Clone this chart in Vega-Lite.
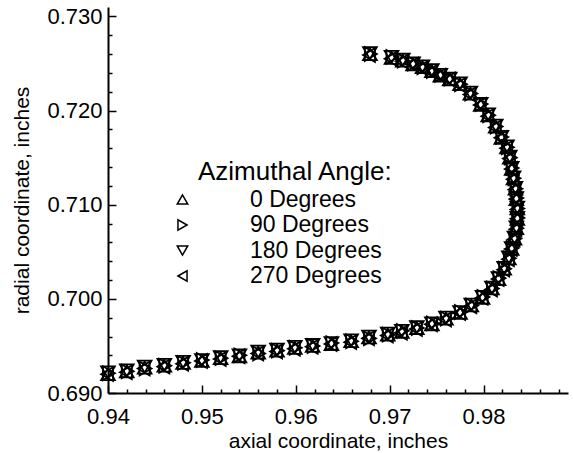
{
 "$schema": "https://vega.github.io/schema/vega-lite/v6.json",
 "width": 460, "height": 386,
 "autosize": {"type": "none"},
 "padding": {"left": 108, "top": 7, "right": 5, "bottom": 60},
 "background": "white",
 "config": {"view": {"stroke": null}, "font": "Liberation Sans"},
 "data": {"values": [
  {"x":0.9400,"y":0.6920,"a":"0 Degrees"},{"x":0.9420,"y":0.6923,"a":"0 Degrees"},{"x":0.9439,"y":0.6927,"a":"0 Degrees"},{"x":0.9460,"y":0.6929,"a":"0 Degrees"},{"x":0.9480,"y":0.6932,"a":"0 Degrees"},{"x":0.9500,"y":0.6934,"a":"0 Degrees"},{"x":0.9520,"y":0.6937,"a":"0 Degrees"},{"x":0.9540,"y":0.6939,"a":"0 Degrees"},{"x":0.9560,"y":0.6943,"a":"0 Degrees"},{"x":0.9580,"y":0.6945,"a":"0 Degrees"},{"x":0.9599,"y":0.6948,"a":"0 Degrees"},{"x":0.9618,"y":0.6950,"a":"0 Degrees"},{"x":0.9638,"y":0.6952,"a":"0 Degrees"},{"x":0.9659,"y":0.6955,"a":"0 Degrees"},{"x":0.9678,"y":0.6959,"a":"0 Degrees"},{"x":0.9698,"y":0.6962,"a":"0 Degrees"},{"x":0.9713,"y":0.6965,"a":"0 Degrees"},{"x":0.9729,"y":0.6969,"a":"0 Degrees"},{"x":0.9745,"y":0.6973,"a":"0 Degrees"},{"x":0.9760,"y":0.6979,"a":"0 Degrees"},{"x":0.9775,"y":0.6985,"a":"0 Degrees"},{"x":0.9787,"y":0.6993,"a":"0 Degrees"},{"x":0.9799,"y":0.7001,"a":"0 Degrees"},{"x":0.9809,"y":0.7011,"a":"0 Degrees"},{"x":0.9816,"y":0.7021,"a":"0 Degrees"},{"x":0.9822,"y":0.7032,"a":"0 Degrees"},{"x":0.9827,"y":0.7043,"a":"0 Degrees"},{"x":0.9830,"y":0.7053,"a":"0 Degrees"},{"x":0.9833,"y":0.7064,"a":"0 Degrees"},{"x":0.9835,"y":0.7075,"a":"0 Degrees"},{"x":0.9836,"y":0.7085,"a":"0 Degrees"},{"x":0.9836,"y":0.7096,"a":"0 Degrees"},{"x":0.9835,"y":0.7106,"a":"0 Degrees"},{"x":0.9834,"y":0.7117,"a":"0 Degrees"},{"x":0.9832,"y":0.7128,"a":"0 Degrees"},{"x":0.9830,"y":0.7138,"a":"0 Degrees"},{"x":0.9828,"y":0.7150,"a":"0 Degrees"},{"x":0.9825,"y":0.7161,"a":"0 Degrees"},{"x":0.9819,"y":0.7171,"a":"0 Degrees"},{"x":0.9813,"y":0.7183,"a":"0 Degrees"},{"x":0.9805,"y":0.7195,"a":"0 Degrees"},{"x":0.9797,"y":0.7206,"a":"0 Degrees"},{"x":0.9786,"y":0.7218,"a":"0 Degrees"},{"x":0.9775,"y":0.7228,"a":"0 Degrees"},{"x":0.9764,"y":0.7233,"a":"0 Degrees"},{"x":0.9754,"y":0.7237,"a":"0 Degrees"},{"x":0.9745,"y":0.7242,"a":"0 Degrees"},{"x":0.9735,"y":0.7246,"a":"0 Degrees"},{"x":0.9725,"y":0.7249,"a":"0 Degrees"},{"x":0.9714,"y":0.7253,"a":"0 Degrees"},{"x":0.9702,"y":0.7256,"a":"0 Degrees"},{"x":0.9679,"y":0.7260,"a":"0 Degrees"},

  {"x":0.9401,"y":0.6921,"a":"90 Degrees"},{"x":0.9421,"y":0.6923,"a":"90 Degrees"},{"x":0.9440,"y":0.6926,"a":"90 Degrees"},{"x":0.9461,"y":0.6929,"a":"90 Degrees"},{"x":0.9481,"y":0.6932,"a":"90 Degrees"},{"x":0.9501,"y":0.6935,"a":"90 Degrees"},{"x":0.9521,"y":0.6937,"a":"90 Degrees"},{"x":0.9541,"y":0.6940,"a":"90 Degrees"},{"x":0.9561,"y":0.6942,"a":"90 Degrees"},{"x":0.9581,"y":0.6945,"a":"90 Degrees"},{"x":0.9600,"y":0.6948,"a":"90 Degrees"},{"x":0.9619,"y":0.6950,"a":"90 Degrees"},{"x":0.9639,"y":0.6953,"a":"90 Degrees"},{"x":0.9660,"y":0.6955,"a":"90 Degrees"},{"x":0.9679,"y":0.6958,"a":"90 Degrees"},{"x":0.9699,"y":0.6962,"a":"90 Degrees"},{"x":0.9714,"y":0.6966,"a":"90 Degrees"},{"x":0.9730,"y":0.6969,"a":"90 Degrees"},{"x":0.9746,"y":0.6974,"a":"90 Degrees"},{"x":0.9761,"y":0.6979,"a":"90 Degrees"},{"x":0.9776,"y":0.6986,"a":"90 Degrees"},{"x":0.9788,"y":0.6993,"a":"90 Degrees"},{"x":0.9800,"y":0.7002,"a":"90 Degrees"},{"x":0.9810,"y":0.7011,"a":"90 Degrees"},{"x":0.9817,"y":0.7022,"a":"90 Degrees"},{"x":0.9823,"y":0.7032,"a":"90 Degrees"},{"x":0.9828,"y":0.7043,"a":"90 Degrees"},{"x":0.9831,"y":0.7054,"a":"90 Degrees"},{"x":0.9834,"y":0.7064,"a":"90 Degrees"},{"x":0.9836,"y":0.7075,"a":"90 Degrees"},{"x":0.9837,"y":0.7086,"a":"90 Degrees"},{"x":0.9837,"y":0.7096,"a":"90 Degrees"},{"x":0.9836,"y":0.7107,"a":"90 Degrees"},{"x":0.9835,"y":0.7117,"a":"90 Degrees"},{"x":0.9833,"y":0.7128,"a":"90 Degrees"},{"x":0.9831,"y":0.7139,"a":"90 Degrees"},{"x":0.9829,"y":0.7150,"a":"90 Degrees"},{"x":0.9826,"y":0.7161,"a":"90 Degrees"},{"x":0.9820,"y":0.7172,"a":"90 Degrees"},{"x":0.9814,"y":0.7183,"a":"90 Degrees"},{"x":0.9806,"y":0.7195,"a":"90 Degrees"},{"x":0.9798,"y":0.7207,"a":"90 Degrees"},{"x":0.9787,"y":0.7218,"a":"90 Degrees"},{"x":0.9776,"y":0.7228,"a":"90 Degrees"},{"x":0.9765,"y":0.7234,"a":"90 Degrees"},{"x":0.9755,"y":0.7238,"a":"90 Degrees"},{"x":0.9746,"y":0.7242,"a":"90 Degrees"},{"x":0.9736,"y":0.7246,"a":"90 Degrees"},{"x":0.9726,"y":0.7250,"a":"90 Degrees"},{"x":0.9715,"y":0.7253,"a":"90 Degrees"},{"x":0.9703,"y":0.7257,"a":"90 Degrees"},{"x":0.9680,"y":0.7260,"a":"90 Degrees"},

  {"x":0.9400,"y":0.6922,"a":"180 Degrees"},{"x":0.9420,"y":0.6924,"a":"180 Degrees"},{"x":0.9439,"y":0.6928,"a":"180 Degrees"},{"x":0.9460,"y":0.6930,"a":"180 Degrees"},{"x":0.9480,"y":0.6933,"a":"180 Degrees"},{"x":0.9500,"y":0.6935,"a":"180 Degrees"},{"x":0.9520,"y":0.6938,"a":"180 Degrees"},{"x":0.9540,"y":0.6940,"a":"180 Degrees"},{"x":0.9560,"y":0.6944,"a":"180 Degrees"},{"x":0.9580,"y":0.6946,"a":"180 Degrees"},{"x":0.9599,"y":0.6949,"a":"180 Degrees"},{"x":0.9618,"y":0.6951,"a":"180 Degrees"},{"x":0.9638,"y":0.6953,"a":"180 Degrees"},{"x":0.9659,"y":0.6956,"a":"180 Degrees"},{"x":0.9678,"y":0.6960,"a":"180 Degrees"},{"x":0.9698,"y":0.6963,"a":"180 Degrees"},{"x":0.9713,"y":0.6966,"a":"180 Degrees"},{"x":0.9729,"y":0.6970,"a":"180 Degrees"},{"x":0.9745,"y":0.6974,"a":"180 Degrees"},{"x":0.9760,"y":0.6980,"a":"180 Degrees"},{"x":0.9775,"y":0.6986,"a":"180 Degrees"},{"x":0.9787,"y":0.6994,"a":"180 Degrees"},{"x":0.9799,"y":0.7002,"a":"180 Degrees"},{"x":0.9809,"y":0.7012,"a":"180 Degrees"},{"x":0.9816,"y":0.7022,"a":"180 Degrees"},{"x":0.9822,"y":0.7033,"a":"180 Degrees"},{"x":0.9827,"y":0.7044,"a":"180 Degrees"},{"x":0.9830,"y":0.7054,"a":"180 Degrees"},{"x":0.9833,"y":0.7065,"a":"180 Degrees"},{"x":0.9835,"y":0.7076,"a":"180 Degrees"},{"x":0.9836,"y":0.7086,"a":"180 Degrees"},{"x":0.9836,"y":0.7097,"a":"180 Degrees"},{"x":0.9835,"y":0.7107,"a":"180 Degrees"},{"x":0.9834,"y":0.7118,"a":"180 Degrees"},{"x":0.9832,"y":0.7129,"a":"180 Degrees"},{"x":0.9830,"y":0.7139,"a":"180 Degrees"},{"x":0.9828,"y":0.7151,"a":"180 Degrees"},{"x":0.9825,"y":0.7162,"a":"180 Degrees"},{"x":0.9819,"y":0.7172,"a":"180 Degrees"},{"x":0.9813,"y":0.7184,"a":"180 Degrees"},{"x":0.9805,"y":0.7196,"a":"180 Degrees"},{"x":0.9797,"y":0.7207,"a":"180 Degrees"},{"x":0.9786,"y":0.7219,"a":"180 Degrees"},{"x":0.9775,"y":0.7229,"a":"180 Degrees"},{"x":0.9764,"y":0.7234,"a":"180 Degrees"},{"x":0.9754,"y":0.7238,"a":"180 Degrees"},{"x":0.9745,"y":0.7243,"a":"180 Degrees"},{"x":0.9735,"y":0.7247,"a":"180 Degrees"},{"x":0.9725,"y":0.7250,"a":"180 Degrees"},{"x":0.9714,"y":0.7254,"a":"180 Degrees"},{"x":0.9702,"y":0.7257,"a":"180 Degrees"},{"x":0.9679,"y":0.7261,"a":"180 Degrees"},

  {"x":0.9399,"y":0.6920,"a":"270 Degrees"},{"x":0.9419,"y":0.6922,"a":"270 Degrees"},{"x":0.9438,"y":0.6926,"a":"270 Degrees"},{"x":0.9459,"y":0.6928,"a":"270 Degrees"},{"x":0.9479,"y":0.6931,"a":"270 Degrees"},{"x":0.9499,"y":0.6934,"a":"270 Degrees"},{"x":0.9519,"y":0.6936,"a":"270 Degrees"},{"x":0.9539,"y":0.6939,"a":"270 Degrees"},{"x":0.9559,"y":0.6942,"a":"270 Degrees"},{"x":0.9579,"y":0.6944,"a":"270 Degrees"},{"x":0.9598,"y":0.6947,"a":"270 Degrees"},{"x":0.9617,"y":0.6949,"a":"270 Degrees"},{"x":0.9637,"y":0.6952,"a":"270 Degrees"},{"x":0.9658,"y":0.6954,"a":"270 Degrees"},{"x":0.9677,"y":0.6958,"a":"270 Degrees"},{"x":0.9697,"y":0.6961,"a":"270 Degrees"},{"x":0.9712,"y":0.6964,"a":"270 Degrees"},{"x":0.9728,"y":0.6968,"a":"270 Degrees"},{"x":0.9744,"y":0.6973,"a":"270 Degrees"},{"x":0.9759,"y":0.6978,"a":"270 Degrees"},{"x":0.9774,"y":0.6985,"a":"270 Degrees"},{"x":0.9786,"y":0.6992,"a":"270 Degrees"},{"x":0.9798,"y":0.7001,"a":"270 Degrees"},{"x":0.9808,"y":0.7010,"a":"270 Degrees"},{"x":0.9815,"y":0.7021,"a":"270 Degrees"},{"x":0.9821,"y":0.7031,"a":"270 Degrees"},{"x":0.9826,"y":0.7042,"a":"270 Degrees"},{"x":0.9829,"y":0.7053,"a":"270 Degrees"},{"x":0.9832,"y":0.7063,"a":"270 Degrees"},{"x":0.9834,"y":0.7074,"a":"270 Degrees"},{"x":0.9835,"y":0.7085,"a":"270 Degrees"},{"x":0.9835,"y":0.7095,"a":"270 Degrees"},{"x":0.9834,"y":0.7106,"a":"270 Degrees"},{"x":0.9833,"y":0.7116,"a":"270 Degrees"},{"x":0.9831,"y":0.7127,"a":"270 Degrees"},{"x":0.9829,"y":0.7138,"a":"270 Degrees"},{"x":0.9827,"y":0.7149,"a":"270 Degrees"},{"x":0.9824,"y":0.7160,"a":"270 Degrees"},{"x":0.9818,"y":0.7171,"a":"270 Degrees"},{"x":0.9812,"y":0.7182,"a":"270 Degrees"},{"x":0.9804,"y":0.7194,"a":"270 Degrees"},{"x":0.9796,"y":0.7206,"a":"270 Degrees"},{"x":0.9785,"y":0.7217,"a":"270 Degrees"},{"x":0.9774,"y":0.7227,"a":"270 Degrees"},{"x":0.9763,"y":0.7233,"a":"270 Degrees"},{"x":0.9753,"y":0.7237,"a":"270 Degrees"},{"x":0.9744,"y":0.7241,"a":"270 Degrees"},{"x":0.9734,"y":0.7245,"a":"270 Degrees"},{"x":0.9724,"y":0.7249,"a":"270 Degrees"},{"x":0.9713,"y":0.7252,"a":"270 Degrees"},{"x":0.9701,"y":0.7255,"a":"270 Degrees"},{"x":0.9678,"y":0.7259,"a":"270 Degrees"}
 ]},
 "mark": {"type": "point", "filled": false, "color": "black", "size": 190, "strokeWidth": 1.8, "opacity": 1},
 "encoding": {
  "x": {"field": "x", "type": "quantitative",
   "scale": {"domain": [0.94, 0.989], "nice": false, "zero": false},
   "axis": {"title": "axial coordinate, inches",
    "values": [0.94,0.942,0.944,0.946,0.948,0.95,0.952,0.954,0.956,0.958,0.96,0.962,0.964,0.966,0.968,0.97,0.972,0.974,0.976,0.978,0.98,0.982,0.984,0.986,0.988],
    "labelExpr": "abs(datum.value*100-round(datum.value*100))<0.01 ? format(datum.value,'.2f') : ''",
    "tickSize": {"condition": {"test": "abs(datum.value*100-round(datum.value*100))<0.01", "value": -8}, "value": -4},
    "tickColor": "black", "tickWidth": 1.5, "domainColor": "black", "domainWidth": 2,
    "labelFontSize": 22, "labelColor": "black", "labelPadding": 21, "labelFlush": false, "labelOverlap": false,
    "titleFontSize": 21, "titleFontWeight": "normal", "titleColor": "black", "titlePadding": -1, "grid": false}},
  "y": {"field": "y", "type": "quantitative",
   "scale": {"domain": [0.69, 0.731], "nice": false, "zero": false},
   "axis": {"title": "radial coordinate, inches",
    "values": [0.69,0.692,0.694,0.696,0.698,0.7,0.702,0.704,0.706,0.708,0.71,0.712,0.714,0.716,0.718,0.72,0.722,0.724,0.726,0.728,0.73],
    "labelExpr": "abs(datum.value*100-round(datum.value*100))<0.01 ? format(datum.value,'.3f') : ''",
    "tickSize": {"condition": {"test": "abs(datum.value*100-round(datum.value*100))<0.01", "value": -8}, "value": -4},
    "tickColor": "black", "tickWidth": 1.5, "domainColor": "black", "domainWidth": 2,
    "labelFontSize": 22, "labelColor": "black", "labelPadding": 14, "labelFlush": false, "labelOverlap": false,
    "titleFontSize": 21, "titleFontWeight": "normal", "titleColor": "black", "titlePadding": 14, "grid": false}},
  "shape": {"field": "a", "type": "nominal",
   "scale": {"domain": ["0 Degrees","90 Degrees","180 Degrees","270 Degrees"], "range": ["triangle-up","triangle-right","triangle-down","triangle-left"]},
   "legend": {"orient": "none", "legendX": 90, "legendY": 152, "padding": 0,
    "title": "Azimuthal Angle:", "titleFontSize": 26, "titleFontWeight": "normal", "titleColor": "black", "titleLimit": 400,
    "titlePadding": 3, "labelFontSize": 23, "labelColor": "black", "labelLimit": 300, "labelOffset": 56,
    "symbolSize": 110, "symbolStrokeWidth": 1.5, "symbolStrokeColor": "black", "symbolFillColor": "transparent",
    "symbolOffset": -27, "rowPadding": 1.5}}
 }
}
